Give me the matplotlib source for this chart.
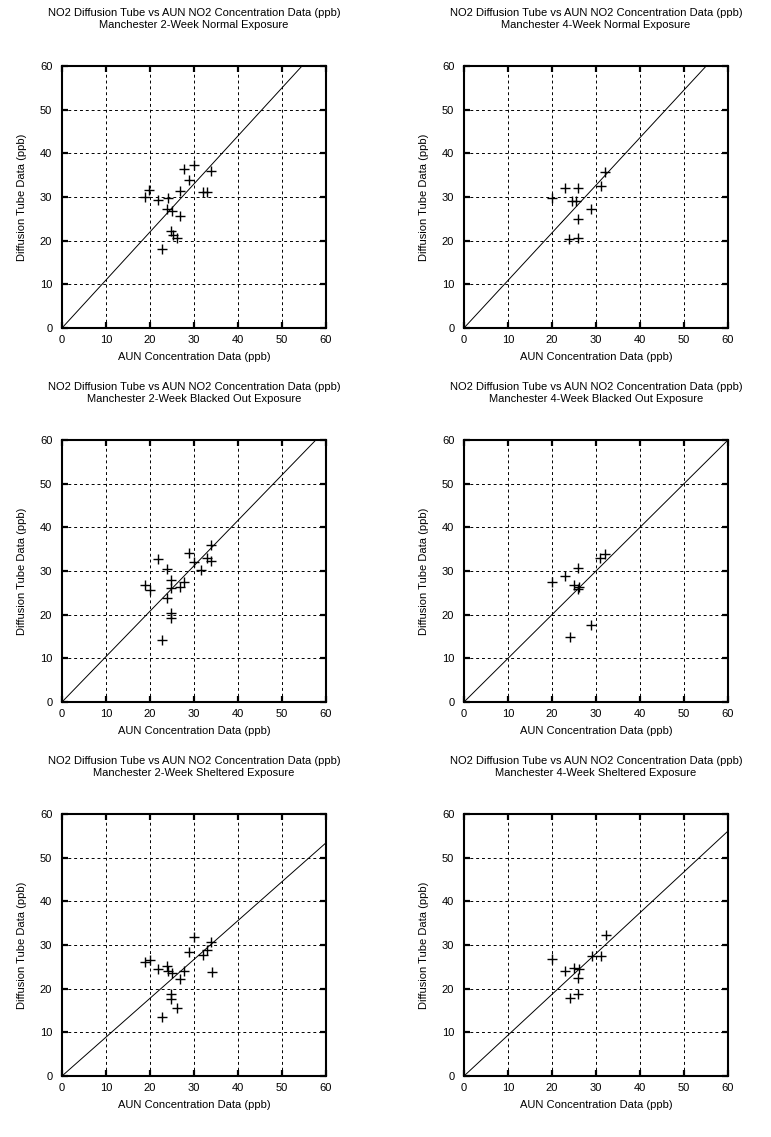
import matplotlib
matplotlib.use("Agg")
import matplotlib.pyplot as plt
import numpy as np

plt.rcParams['font.family'] = ['Liberation Sans', 'DejaVu Sans']

# ---- data ----
n2_x = [30.0, 27.8, 28.9, 33.9, 19.8, 18.9, 21.9, 24.0, 26.9, 32.0, 32.9, 23.9, 24.9, 26.9, 24.7, 25.2, 26.1, 22.7]
n2_y = [37.3, 36.3, 33.9, 35.9, 31.7, 29.9, 29.4, 29.7, 31.4, 31.1, 31.2, 27.3, 26.8, 25.7, 22.3, 21.3, 20.5, 18.2]

n4_x = [32.1, 31.1, 23.0, 26.0, 20.1, 24.6, 25.4, 28.9, 26.0, 23.9, 26.0]
n4_y = [35.8, 32.6, 32.0, 32.0, 29.7, 29.0, 29.0, 27.2, 24.9, 20.3, 20.7]

b2_x = [33.9, 28.9, 21.9, 30.0, 32.9, 33.9, 23.9, 31.7, 24.8, 18.9, 20.0, 27.7, 26.8, 24.8, 23.9, 24.8, 24.8, 22.7]
b2_y = [36.0, 34.1, 32.7, 32.0, 33.0, 32.4, 30.5, 30.2, 27.9, 26.8, 25.6, 27.5, 26.4, 26.2, 23.8, 20.3, 19.2, 14.2]

b4_x = [32.0, 30.9, 26.0, 23.0, 20.1, 25.0, 26.1, 26.0, 28.9, 24.0]
b4_y = [34.0, 32.9, 30.7, 28.9, 27.4, 26.8, 26.3, 25.9, 17.6, 14.8]

s2_x = [30.0, 33.9, 32.9, 32.0, 28.9, 18.9, 20.0, 21.9, 23.9, 24.0, 24.9, 27.7, 26.8, 34.0, 24.8, 24.8, 26.1, 22.7]
s2_y = [31.8, 30.8, 28.9, 27.6, 28.4, 26.1, 26.5, 24.6, 25.3, 24.0, 23.6, 24.0, 22.3, 23.8, 18.7, 17.7, 15.6, 13.5]

s4_x = [32.2, 29.0, 31.1, 20.1, 25.1, 26.1, 23.0, 26.0, 26.0, 24.0]
s4_y = [32.4, 27.4, 27.4, 26.7, 24.8, 24.4, 24.0, 22.5, 18.7, 17.9]

fit_slopes = [1.10, 1.09, 1.04, 1.00, 0.89, 0.935]

subtitles = ["Manchester 2-Week Normal Exposure", "Manchester 4-Week Normal Exposure",
             "Manchester 2-Week Blacked Out Exposure", "Manchester 4-Week Blacked Out Exposure",
             "Manchester 2-Week Sheltered Exposure", "Manchester 4-Week Sheltered Exposure"]
main_title = "NO2 Diffusion Tube vs AUN NO2 Concentration Data (ppb)"
xlabel = "AUN Concentration Data (ppb)"
ylabel = "Diffusion Tube Data (ppb)"
ticks = [0, 10, 20, 30, 40, 50, 60]

series = [(n2_x, n2_y), (n4_x, n4_y), (b2_x, b2_y), (b4_x, b4_y), (s2_x, s2_y), (s4_x, s4_y)]

W, H = 771, 1137
fig = plt.figure(figsize=(W / 100, H / 100), dpi=100)

lefts = [62, 464]
tops = [66, 440, 814]
aw, ah = 264, 262

for i, ((xs, ys), sub, k) in enumerate(zip(series, subtitles, fit_slopes)):
    r, c = divmod(i, 2)
    ax = fig.add_axes([lefts[c] / W, 1 - (tops[r] + ah) / H, aw / W, ah / H])
    ax.set_xlim(0, 60)
    ax.set_ylim(0, 60)
    ax.set_xticks(ticks)
    ax.set_yticks(ticks)
    ax.grid(True, color='black', linestyle=(0, (3, 3)), linewidth=0.7)
    ax.set_axisbelow(True)
    lx = np.array([0, 60])
    ax.plot(lx, k * lx, color='black', linewidth=0.7)
    ax.plot(xs, ys, linestyle='none', marker='+', markersize=7, markeredgewidth=1.0, color='black')
    for sp in ax.spines.values():
        sp.set_linewidth(1.5)
    ax.tick_params(direction='in', length=4, width=1.6, top=True, right=True,
                   labelsize=8, pad=5)
    ax.tick_params(axis='y', pad=7)
    ax.set_xlabel(xlabel, fontsize=8, labelpad=5)
    ax.set_ylabel(ylabel, fontsize=8, labelpad=9)
    ax.text(0.5, 1 + 53 / ah, main_title, transform=ax.transAxes, ha='center', va='center', fontsize=8)
    ax.text(0.5, 1 + 41 / ah, sub, transform=ax.transAxes, ha='center', va='center', fontsize=8)

fig.savefig("out.png", dpi=100, facecolor='white')
